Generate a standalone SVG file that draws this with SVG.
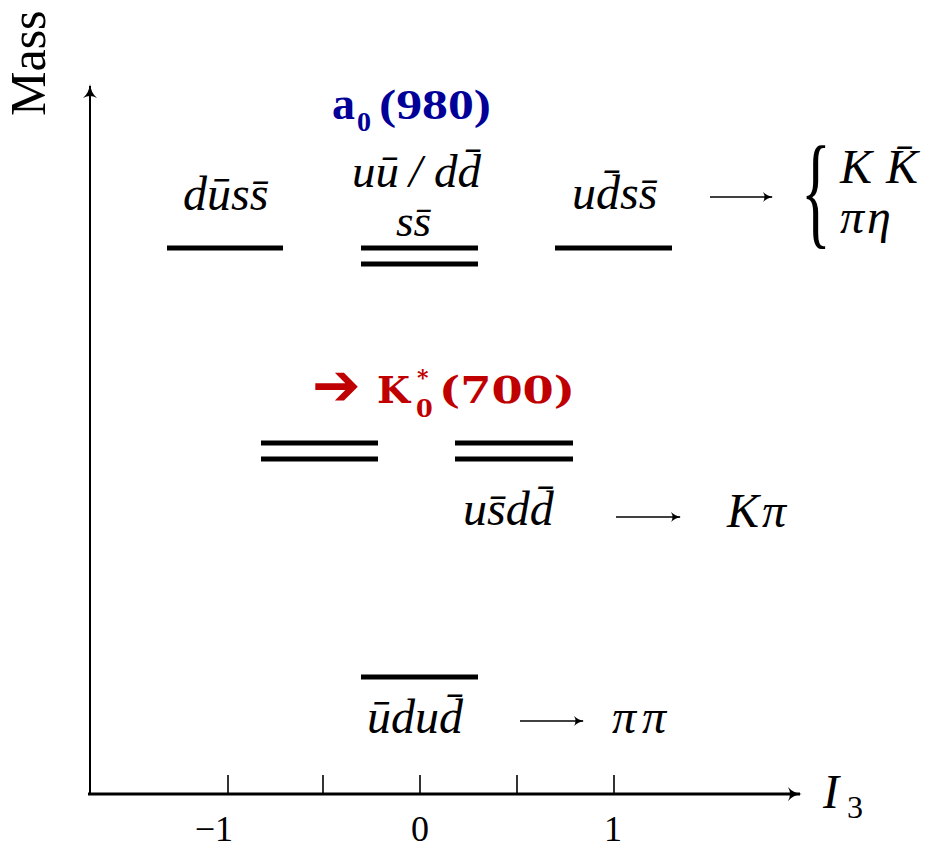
<svg xmlns="http://www.w3.org/2000/svg" width="925" height="849" viewBox="0 0 925 849">
<defs>
<style>
text{font-family:"Liberation Serif",serif}
.m{font-style:italic;font-size:48px;fill:#000}
.r{font-size:36px;fill:#000}
.lvl{stroke:#000;stroke-width:5;fill:none}
.ax{stroke:#000;fill:none}
.blue{font-weight:bold;fill:#000099}
.red{font-family:"DejaVu Serif","Liberation Serif",serif;font-weight:bold;fill:#C00000}
</style>
<marker id="ah" markerWidth="12" markerHeight="12" refX="10" refY="6" orient="auto" markerUnits="userSpaceOnUse">
<path d="M1,1 Q5,5 11,6 Q5,7 1,11 Q4,6 1,1 Z" fill="#000"/>
</marker>
<marker id="axh" markerWidth="16" markerHeight="16" refX="13" refY="8" orient="auto" markerUnits="userSpaceOnUse">
<path d="M1,1 Q6,7 15,8 Q6,9 1,15 Q5,8 1,1 Z" fill="#000"/>
</marker>
</defs>

<g id="axes">
<line class="ax" x1="90" y1="795" x2="90" y2="86" stroke-width="2" marker-end="url(#axh)"/>
<line class="ax" x1="88" y1="794" x2="800" y2="794" stroke-width="3" marker-end="url(#axh)"/>
<g stroke="#000" stroke-width="1.6">
<line x1="228" y1="775" x2="228" y2="794"/>
<line x1="323" y1="775" x2="323" y2="794"/>
<line x1="420" y1="775" x2="420" y2="794"/>
<line x1="517" y1="775" x2="517" y2="794"/>
<line x1="614" y1="775" x2="614" y2="794"/>
</g>
<text class="r" x="233" y="841" text-anchor="end">−1</text>
<text class="r" x="420" y="841" text-anchor="middle">0</text>
<text class="r" x="613" y="841" text-anchor="middle">1</text>
<text class="r" x="823" y="808" style="font-style:italic;font-size:48px">I</text>
<text class="r" x="847" y="818" style="font-size:32px">3</text>
<text class="r" transform="translate(45,116) rotate(-90)" style="font-size:50px">Mass</text>
</g>

<g id="level-dus">
<line class="lvl" x1="167" y1="248" x2="283" y2="248"/>
<text class="m" x="183" y="210">dūss̄</text>
</g>

<g id="level-a0">
<line class="lvl" x1="361" y1="248" x2="478" y2="248"/>
<line class="lvl" x1="361" y1="264" x2="478" y2="264"/>
<text class="m" x="352" y="187" style="font-size:47px">uū<tspan x="409">/</tspan><tspan x="434">dd̄</tspan></text>
<text class="m" x="396" y="236" style="font-size:45px">ss̄</text>
<text class="blue" x="332" y="119" style="font-size:46px">a</text>
<text class="blue" x="357" y="131" style="font-size:28px">0</text>
<text class="blue" x="379" y="119" style="font-size:42px" textLength="112" lengthAdjust="spacingAndGlyphs">(980)</text>
</g>

<g id="level-uds">
<line class="lvl" x1="555" y1="248" x2="672" y2="248"/>
<text class="m" x="572" y="209">ud̄ss̄</text>
</g>

<g id="decay-a0">
<text class="r" transform="translate(801,232) scale(0.5,1)" style="font-size:124px">{</text>
<text class="m" x="840" y="183">K<tspan x="886">K̄</tspan></text>
<text class="m" x="840" y="233" style="letter-spacing:3px">πη</text>
</g>

<g id="level-k0">
<line class="lvl" x1="261" y1="443" x2="378" y2="443"/>
<line class="lvl" x1="261" y1="459" x2="378" y2="459"/>
<line class="lvl" x1="455" y1="443" x2="573" y2="443"/>
<line class="lvl" x1="455" y1="459" x2="573" y2="459"/>
<text class="m" x="463" y="525">us̄dd̄</text>
<text class="m" x="727" y="527" style="letter-spacing:3px">Kπ</text>
</g>

<g id="label-k0">
<text class="red" x="312" y="405" style="font-size:58px;font-family:'DejaVu Sans',sans-serif">➔</text>
<text class="red" x="377" y="403" style="font-size:38px">K</text>
<text class="red" x="417" y="385" style="font-size:22px">*</text>
<text class="red" x="416" y="417" style="font-size:24px">0</text>
<text class="red" x="439" y="403" style="font-size:38px" textLength="136" lengthAdjust="spacingAndGlyphs">(700)</text>
</g>

<g id="level-ud">
<line class="lvl" x1="361" y1="677" x2="478" y2="677"/>
<text class="m" x="367" y="733">ūdud̄</text>
<text class="m" x="612" y="733" style="letter-spacing:6px">ππ</text>
</g>

<g id="connectors" stroke="#000" stroke-width="1.6" fill="none">
<line x1="710" y1="197" x2="772" y2="197" marker-end="url(#ah)"/>
<line x1="616" y1="517" x2="680" y2="517" marker-end="url(#ah)"/>
<line x1="520" y1="721" x2="583" y2="721" marker-end="url(#ah)"/>
</g>
</svg>
